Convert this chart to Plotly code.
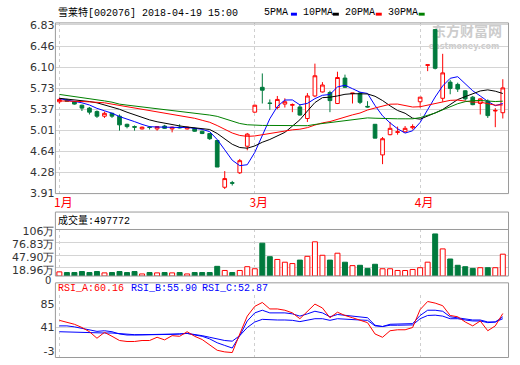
import plotly.graph_objects as go

W, H = 520, 365


def px(x):
    return x / W


def py(y):
    return 1 - y / H


# ---------------- data ----------------
bar_index = list(range(60))
x_tick_vals = [0, 26, 48]
x_tick_text = ["1月", "3月", "4月"]

open_ = [5.50, 5.53, 5.50, 5.44, 5.39, 5.33, 5.25, 5.30, 5.25, 5.11,
         5.07, 5.03, 5.06, 5.03, 5.08, 5.03, 5.06, 5.03, 5.04, 4.99,
         4.95, 4.83, 4.02, 4.10, 4.27, 4.73, 5.32, 5.75, 5.48, 5.40,
         5.46, 5.44, 5.41, 5.21, 5.60, 5.67, 5.66, 5.47, 5.91, 5.64,
         5.65, 5.42, 5.11, 4.58, 4.93, 4.97, 4.98, 5.05, 5.50, 6.13,
         6.75, 5.56, 5.84, 5.80, 5.69, 5.58, 5.47, 5.51, 5.34, 5.31]
high = [5.57, 5.55, 5.51, 5.45, 5.41, 5.35, 5.33, 5.31, 5.28, 5.12,
        5.09, 5.07, 5.08, 5.07, 5.10, 5.07, 5.11, 5.07, 5.05, 5.00,
        4.96, 4.84, 4.30, 4.13, 4.51, 4.96, 5.45, 5.99, 5.54, 5.60,
        5.56, 5.47, 5.46, 5.65, 6.16, 5.84, 5.69, 6.02, 5.97, 5.65,
        5.67, 5.51, 5.11, 4.89, 5.15, 5.07, 5.08, 5.11, 5.58, 6.14,
        6.75, 6.33, 5.88, 5.83, 5.70, 5.60, 5.56, 5.54, 5.39, 5.89]
low = [5.47, 5.50, 5.45, 5.34, 5.28, 5.22, 5.22, 5.22, 5.00, 5.04,
       5.00, 5.02, 5.02, 5.00, 5.03, 4.97, 5.04, 5.02, 4.98, 4.94,
       4.84, 4.37, 3.99, 4.05, 4.25, 4.66, 5.31, 5.47, 5.36, 5.37,
       5.40, 5.32, 5.26, 5.15, 5.58, 5.66, 5.32, 5.46, 5.74, 5.47,
       5.46, 5.40, 4.87, 4.42, 4.92, 4.93, 4.97, 5.02, 5.40, 6.03,
       6.06, 5.50, 5.63, 5.67, 5.52, 5.44, 5.28, 5.22, 5.06, 5.21]
close = [5.54, 5.51, 5.46, 5.39, 5.32, 5.25, 5.30, 5.25, 5.10, 5.07,
         5.06, 5.06, 5.055, 5.07, 5.04, 5.06, 5.05, 5.06, 4.99, 4.95,
         4.86, 4.37, 4.17, 4.09, 4.48, 4.94, 5.44, 5.70, 5.47, 5.54,
         5.50, 5.45, 5.27, 5.60, 5.95, 5.79, 5.52, 5.92, 5.75, 5.65,
         5.49, 5.41, 4.87, 4.86, 5.04, 4.98, 5.04, 5.07, 5.58, 6.14,
         6.08, 6.00, 5.73, 5.72, 5.55, 5.45, 5.55, 5.26, 5.35, 5.74]

ma5 = [5.554, 5.532, 5.504, 5.482, 5.444, 5.386, 5.344, 5.302, 5.244, 5.194,
       5.156, 5.108, 5.069, 5.063, 5.057, 5.057, 5.055, 5.056, 5.040, 5.022,
       4.982, 4.846, 4.668, 4.488, 4.394, 4.410, 4.624, 4.930, 5.206, 5.418,
       5.530, 5.532, 5.446, 5.472, 5.554, 5.612, 5.626, 5.756, 5.786, 5.726,
       5.666, 5.644, 5.434, 5.256, 5.134, 5.032, 4.958, 4.998, 5.142, 5.362,
       5.582, 5.774, 5.906, 5.934, 5.816, 5.690, 5.600, 5.506, 5.432, 5.470]
ma10 = [5.560, 5.549, 5.538, 5.521, 5.504, 5.482, 5.448, 5.415, 5.370, 5.319,
        5.271, 5.226, 5.186, 5.154, 5.126, 5.107, 5.082, 5.063, 5.052, 5.040,
        5.020, 4.951, 4.862, 4.764, 4.708, 4.696, 4.735, 4.799, 4.847, 4.906,
        4.970, 5.078, 5.188, 5.339, 5.486, 5.571, 5.579, 5.601, 5.629, 5.640,
        5.639, 5.635, 5.595, 5.521, 5.430, 5.349, 5.301, 5.216, 5.199, 5.248,
        5.307, 5.366, 5.452, 5.538, 5.589, 5.636, 5.687, 5.706, 5.683, 5.643]
ma20 = [5.515, 5.515, 5.510, 5.504, 5.498, 5.493, 5.482, 5.459, 5.437, 5.415,
        5.392, 5.370, 5.353, 5.336, 5.314, 5.292, 5.269, 5.241, 5.214, 5.179,
        5.145, 5.088, 5.024, 4.959, 4.917, 4.901, 4.908, 4.931, 4.949, 4.973,
        4.995, 5.014, 5.025, 5.052, 5.097, 5.134, 5.157, 5.200, 5.238, 5.273,
        5.305, 5.357, 5.392, 5.430, 5.458, 5.460, 5.440, 5.409, 5.414, 5.444,
        5.473, 5.501, 5.524, 5.530, 5.510, 5.493, 5.494, 5.461, 5.441, 5.446]
ma30 = [5.627, 5.610, 5.593, 5.577, 5.554, 5.532, 5.515, 5.493, 5.459, 5.442,
        5.426, 5.409, 5.392, 5.381, 5.364, 5.347, 5.336, 5.325, 5.308, 5.292,
        5.270, 5.247, 5.208, 5.163, 5.124, 5.102, 5.091, 5.090, 5.090, 5.088,
        5.087, 5.085, 5.079, 5.086, 5.107, 5.125, 5.132, 5.154, 5.176, 5.195,
        5.210, 5.221, 5.215, 5.208, 5.208, 5.205, 5.205, 5.205, 5.225, 5.265,
        5.305, 5.360, 5.412, 5.466, 5.502, 5.519, 5.522, 5.508, 5.504, 5.510]

# volume in 万 (10k shares)
volume = [9.5, 8.0, 8.0, 10.3, 8.0, 10.3, 7.2, 8.0, 10.3, 8.0,
          10.3, 4.8, 8.0, 7.2, 8.0, 7.2, 8.0, 4.8, 8.0, 8.0,
          8.0, 22.1, 12.7, 8.0, 12.7, 21.3, 16.6, 74.8, 44.1, 37.8,
          31.5, 28.4, 36.3, 44.9, 77.9, 47.3, 36.3, 52.0, 31.5, 23.7,
          24.5, 17.4, 26.8, 16.6, 16.6, 12.7, 12.6, 15.0, 19.0, 31.6,
          95.9, 61.8, 38.8, 24.5, 21.3, 17.4, 19.0, 19.0, 19.0, 49.78]

rsi_a = [54.3, 51.2, 47.0, 41.0, 33.2, 21.1, 32.0, 24.7, 16.9, 15.1,
         15.1, 16.9, 16.9, 22.9, 18.1, 25.9, 24.7, 33.2, 24.7, 18.7,
         9.1, -1.2, -4.2, -5.4, 29.0, 62.1, 80.2, 87.4, 75.4, 75.4,
         73.0, 68.1, 57.3, 71.1, 84.4, 77.2, 59.1, 69.3, 63.3, 59.1,
         54.9, 50.0, 29.0, 22.9, 35.0, 36.8, 36.8, 41.0, 74.2, 89.2,
         86.2, 81.4, 63.3, 60.9, 51.2, 44.0, 53.1, 35.0, 44.0, 66.9]
rsi_b = [44.0, 44.0, 42.2, 39.2, 36.8, 33.8, 35.0, 33.2, 29.0, 27.1,
         27.1, 27.1, 27.1, 27.1, 27.1, 28.3, 29.0, 30.1, 27.1, 24.7,
         19.9, 12.7, 7.8, 3.0, 25.9, 53.1, 68.1, 73.0, 68.1, 68.1,
         68.1, 66.3, 62.1, 66.3, 71.1, 68.1, 60.9, 65.1, 63.9, 62.1,
         60.9, 59.1, 45.2, 42.8, 47.0, 47.0, 47.0, 48.2, 63.3, 73.0,
         73.0, 71.1, 60.9, 59.1, 56.1, 54.9, 54.9, 51.2, 51.2, 60.9]
rsi_c = [33.2, 32.6, 32.0, 32.0, 31.4, 30.8, 30.8, 30.8, 29.5, 28.3,
         27.7, 27.7, 27.7, 27.7, 27.7, 28.3, 29.0, 30.1, 28.3, 25.9,
         22.9, 19.9, 16.9, 15.7, 25.9, 41.0, 51.2, 56.1, 54.9, 54.9,
         54.9, 54.3, 51.9, 54.3, 57.3, 57.3, 54.3, 57.3, 56.1, 56.1,
         54.9, 54.3, 44.0, 42.8, 45.2, 45.2, 45.2, 45.8, 57.3, 63.3,
         63.9, 62.1, 57.3, 57.3, 54.9, 53.1, 53.1, 50.0, 51.2, 57.3]

price_tick_vals = [6.83, 6.465, 6.10, 5.735, 5.37, 5.005, 4.64, 4.275, 3.91]
price_tick_text = ["6.83", "6.46", "6.10", "5.73", "5.37", "5.01", "4.64", "4.28", "3.91"]
vol_tick_vals = [18.96, 47.90, 76.83, 106]
vol_tick_text = ["18.96万", "47.90万", "76.83万", "106万"]
vol_zero_text = "0"
rsi_tick_vals = [85, 41, -3]
rsi_tick_text = ["85", "41", "-3"]

title_text = "雪莱特[002076] 2018-04-19 15:00"
ma_names = ["5PMA", "10PMA", "20PMA", "30PMA"]
vol_title = "成交量:497772"
rsi_titles = ["RSI_A:60.16", "RSI_B:55.90", "RSI_C:52.87"]

# ---------------- styles ----------------
RED = "#ff0000"
GREEN = "#007a3d"
MA_COLORS = ["#0000ff", "#000000", "#ff0000", "#008000"]
BORDER = "#9a9a9a"
GRID = "#d4d4d4"
TICKFONT = dict(family="DejaVu Sans", size=11, color="#333333")
MONO = "Liberation Mono, Noto Sans CJK SC, monospace"

fig = go.Figure()

fig.add_trace(go.Candlestick(
    x=bar_index, open=open_, high=high, low=low, close=close,
    increasing=dict(line=dict(color=RED, width=1), fillcolor="#ffffff"),
    decreasing=dict(line=dict(color=GREEN, width=1), fillcolor=GREEN),
    whiskerwidth=0, xaxis="x", yaxis="y", hoverinfo="skip"))

for vals, col in zip([ma5, ma10, ma20, ma30], MA_COLORS):
    fig.add_trace(go.Scatter(x=bar_index, y=vals, mode="lines",
                             line=dict(color=col, width=1),
                             xaxis="x", yaxis="y", hoverinfo="skip"))

up = [c >= o for o, c in zip(open_, close)]
fig.add_trace(go.Bar(
    x=bar_index, y=volume, width=0.66,
    marker=dict(color=["#ffffff" if u else GREEN for u in up],
                line=dict(color=[RED if u else GREEN for u in up], width=1)),
    xaxis="x2", yaxis="y2", hoverinfo="skip"))

for vals, col in zip([rsi_c, rsi_b, rsi_a], ["#0000ff", "#0000ff", RED]):
    fig.add_trace(go.Scatter(x=bar_index, y=vals, mode="lines",
                             line=dict(color=col, width=1),
                             xaxis="x3", yaxis="y3", hoverinfo="skip"))

XDOM = [px(54.5), px(508.5)]
XRANGE = [-0.53, 59.76]
xgrid = dict(showgrid=True, gridcolor="#cfcfcf", griddash="3px,3px", gridwidth=1,
             tickmode="array", tickvals=x_tick_vals, zeroline=False,
             showline=False, ticks="", range=XRANGE, domain=XDOM)

fig.update_layout(
    width=W, height=H, margin=dict(l=0, r=0, t=0, b=0),
    paper_bgcolor="#ffffff", plot_bgcolor="#ffffff",
    showlegend=False, hovermode=False,
    xaxis=dict(**xgrid, ticktext=x_tick_text, showticklabels=True,
               tickfont=dict(family="Noto Sans CJK SC", size=12, color=RED),
               ticklabelshift=4, rangeslider=dict(visible=False)),
    xaxis2=dict(**xgrid, matches="x", anchor="y2", showticklabels=False),
    xaxis3=dict(**xgrid, matches="x", anchor="y3", showticklabels=False),
    yaxis=dict(domain=[py(195.5), py(19.5)], range=[3.91, 6.865],
               tickmode="array", tickvals=price_tick_vals, ticktext=price_tick_text,
               showgrid=True, gridcolor=GRID, zeroline=False, ticks="",
               tickfont=TICKFONT, anchor="x"),
    yaxis2=dict(domain=[py(280.5), py(232.5)], range=[0, 106],
                tickmode="array", tickvals=vol_tick_vals, ticktext=vol_tick_text,
                showgrid=True, gridcolor=GRID, zeroline=False, ticks="",
                tickfont=TICKFONT, anchor="x2", ticklabelshift=2),
    yaxis3=dict(domain=[py(364.5), py(300)], range=[-14.6, 101.3],
                tickmode="array", tickvals=rsi_tick_vals, ticktext=rsi_tick_text,
                showgrid=False, zeroline=False, ticks="",
                tickfont=TICKFONT, anchor="x3"),
)

shapes = []
# panel frames
for top, bot in [(19.5, 195.5), (214.5, 280.5), (287.5, 364.5)]:
    shapes.append(dict(type="rect", xref="paper", yref="paper",
                       x0=px(54.5), x1=px(508.5), y0=py(bot), y1=py(top),
                       line=dict(color=BORDER, width=1), layer="above"))
# volume title separator
shapes.append(dict(type="line", xref="paper", yref="paper",
                   x0=px(54.5), x1=px(508.5), y0=py(232.5), y1=py(232.5),
                   line=dict(color=BORDER, width=1), layer="above"))
# RSI middle guide at the 41 tick
shapes.append(dict(type="line", xref="paper", yref="y3",
                   x0=px(54.5), x1=px(508.5), y0=41, y1=41,
                   line=dict(color=GRID, width=1), layer="below"))
# legend colour chips
chip_x = [290.5, 332.5, 375.5, 418.5]
for cx, col in zip(chip_x, MA_COLORS):
    shapes.append(dict(type="rect", xref="paper", yref="paper",
                       x0=px(cx), x1=px(cx + 6), y0=py(12), y1=py(9),
                       line=dict(width=0), fillcolor=col))
# watermark (beneath the traces)
shapes.append(dict(type="rect", xref="paper", yref="paper",
                   x0=px(426), x1=px(508), y0=py(36), y1=py(22),
                   line=dict(width=0), fillcolor="rgba(0,0,0,0)", layer="between",
                   label=dict(text="<b>东方财富网</b>",
                              font=dict(family="Noto Sans CJK SC", size=14, color="#cccccc"),
                              textposition="middle center")))
shapes.append(dict(type="rect", xref="paper", yref="paper",
                   x0=px(420), x1=px(508), y0=py(47), y1=py(39),
                   line=dict(width=0), fillcolor="rgba(0,0,0,0)", layer="between",
                   label=dict(text="<b>eastmoney.com</b>",
                              font=dict(family="DejaVu Sans", size=8, color="#cccccc"),
                              textposition="middle center")))
fig.update_layout(shapes=shapes)

ann = []
ann.append(dict(text=title_text, x=px(55), y=py(9), xref="paper", yref="paper",
                xanchor="left", yanchor="middle", showarrow=False,
                font=dict(family=MONO, size=10, color="#000000")))
name_x = [262, 301, 343, 386]
for nx, nm in zip(name_x, ma_names):
    ann.append(dict(text=nm, x=px(nx), y=py(9), xref="paper", yref="paper",
                    xanchor="left", yanchor="middle", showarrow=False,
                    font=dict(family=MONO, size=10, color="#000000")))
ann.append(dict(text=vol_title, x=px(55), y=py(223.5), xref="paper", yref="paper",
                xanchor="left", yanchor="middle", showarrow=False,
                font=dict(family=MONO, size=10, color="#000000")))
# "0" label at the foot of the volume axis
ann.append(dict(text=vol_zero_text, x=px(51.5), y=py(285.5), xref="paper", yref="paper",
                xanchor="right", yanchor="middle", showarrow=False, borderpad=0,
                font=dict(family="DejaVu Sans", size=10, color="#333333")))
rsi_x = [55, 128, 199]
for rx, rt, col in zip(rsi_x, rsi_titles, [RED, "#0000ff", "#0000ff"]):
    ann.append(dict(text=rt, x=px(rx), y=py(293.5), xref="paper", yref="paper",
                    xanchor="left", yanchor="middle", showarrow=False,
                    font=dict(family=MONO, size=10, color=col)))
fig.update_layout(annotations=ann)

fig.write_html("out.html")
